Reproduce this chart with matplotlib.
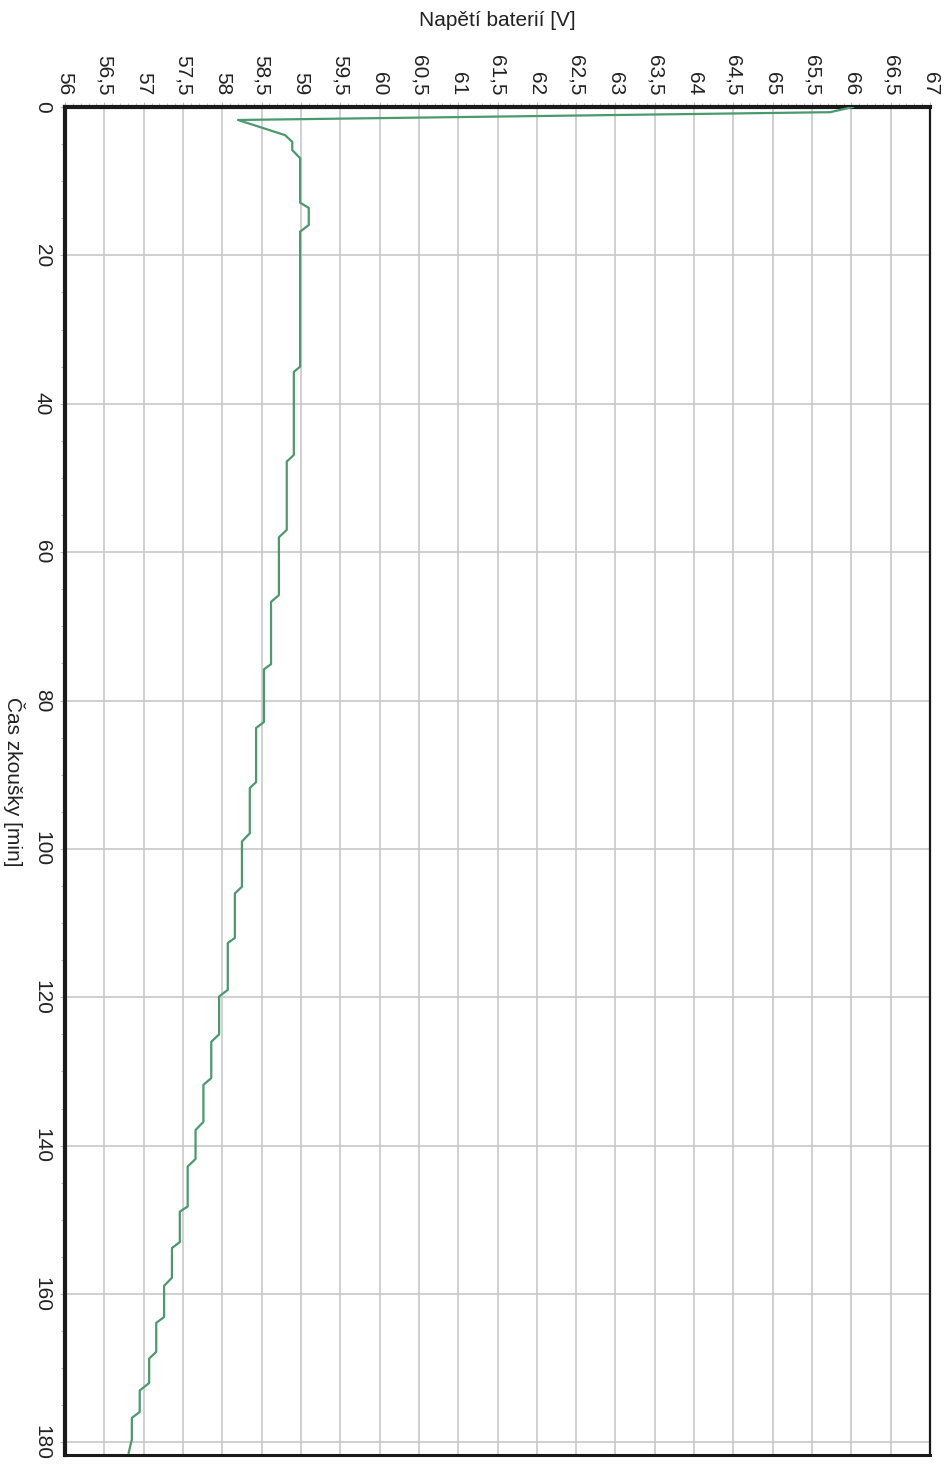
import matplotlib
matplotlib.use("Agg")
import matplotlib.pyplot as plt
from matplotlib.ticker import MultipleLocator, FuncFormatter

# cas zkousky [min] a napeti baterii [V]
cas = [0, 0.7, 1.75, 3.8, 4.7, 5.8, 6.9, 12.9, 13.6, 15.9, 16.8, 35.0, 35.7,
       46.9, 47.8, 57.0, 58.0, 65.8, 66.7, 75.1, 75.8, 82.9, 83.7, 91.0, 91.8,
       97.9, 99.0, 105.1, 106.0, 112.0, 112.7, 119.0, 119.9, 125.0, 126.0,
       130.9, 131.8, 136.8, 137.9, 141.8, 142.8, 148.2, 148.9, 153.0, 153.8,
       157.8, 158.9, 163.1, 163.9, 167.8, 168.7, 172.0, 173.0, 175.9, 176.7,
       179.6, 181.4]
napeti = [66.02, 65.73, 58.2, 58.8, 58.89, 58.89, 58.99, 58.99, 59.1, 59.1,
          58.99, 58.99, 58.91, 58.91, 58.82, 58.82, 58.72, 58.72, 58.62, 58.62,
          58.53, 58.53, 58.43, 58.43, 58.35, 58.35, 58.25, 58.25, 58.16, 58.16,
          58.07, 58.07, 57.96, 57.96, 57.86, 57.86, 57.76, 57.76, 57.66, 57.66,
          57.56, 57.56, 57.46, 57.46, 57.36, 57.36, 57.26, 57.26, 57.16, 57.16,
          57.07, 57.07, 56.95, 56.95, 56.85, 56.85, 56.81]

V_MIN, V_MAX = 56, 67
T_MAX = 181.7

plt.rcParams['font.family'] = ['Liberation Sans', 'DejaVu Sans']
plt.rcParams['font.size'] = 15

fig = plt.figure(figsize=(9.51, 14.65), dpi=100)
ax = fig.add_axes([65 / 951, 1 - 1455 / 1465, 865 / 951, 1348 / 1465])

ax.plot(napeti, cas, color='#4a9a6e', linewidth=1.6, zorder=3)

ax.set_xlim(V_MIN, V_MAX)
ax.set_ylim(T_MAX, 0)

ax.xaxis.set_major_locator(MultipleLocator(0.5))
ax.xaxis.set_minor_locator(MultipleLocator(0.1))
ax.yaxis.set_major_locator(MultipleLocator(20))
ax.yaxis.set_minor_locator(MultipleLocator(5))
ax.xaxis.set_major_formatter(FuncFormatter(lambda v, p: f"{v:g}".replace('.', ',')))

ax.xaxis.tick_top()
ax.grid(True, which='major', color='#c8c8c8', linewidth=1.2, zorder=1)
ax.tick_params(axis='x', which='major', labelrotation=-90, length=3.5, width=0.8,
               color='#bbbbbb', pad=5, labelcolor='#222222')
ax.tick_params(axis='y', which='major', labelrotation=-90, length=3.5, width=0.8,
               color='#bbbbbb', pad=6, labelcolor='#222222')
ax.tick_params(which='minor', length=3, width=0.7, color='#bbbbbb')
for lab in ax.get_yticklabels():
    lab.set_verticalalignment('center')

for side, lw in [('left', 3.0), ('top', 3.0), ('right', 1.6), ('bottom', 2.2)]:
    ax.spines[side].set_linewidth(lw)
    ax.spines[side].set_color('#1a1a1a')

fig.text(497 / 951, 1 - 20 / 1465, 'Napětí baterií [V]', ha='center', va='center',
         fontsize=15, color='#222222')
fig.text(14 / 951, 1 - 782 / 1465, 'Čas zkoušky [min]', ha='center', va='center',
         rotation=-90, fontsize=15, color='#222222')

fig.savefig('out.png', dpi=100)
